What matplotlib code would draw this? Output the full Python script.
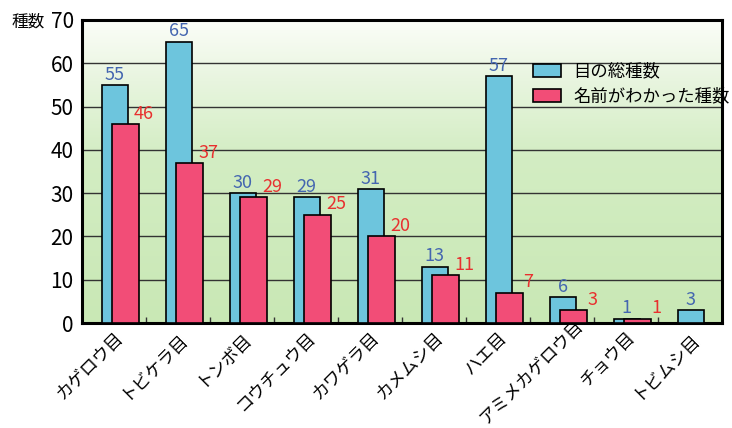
import matplotlib.pyplot as plt
import matplotlib.transforms as mtransforms
import numpy as np
from matplotlib.colors import LinearSegmentedColormap

plt.rcParams['font.family'] = ['Noto Sans CJK JP', 'DejaVu Sans']

categories = ["カゲロウ目", "トビケラ目", "トンボ目", "コウチュウ目", "カワゲラ目",
              "カメムシ目", "ハエ目", "アミメカゲロウ目", "チョウ目", "トビムシ目"]
total_species = [55, 65, 30, 29, 31, 13, 57, 6, 1, 3]
named_species = [46, 37, 29, 25, 20, 11, 7, 3, 1, 0]
yticks = [0, 10, 20, 30, 40, 50, 60, 70]

blue = '#6dc5dd'
red = '#f24d77'

fig = plt.figure(figsize=(7.32, 4.28), dpi=100)
ax = fig.add_axes([82/732, 1-323/428, 640/732, 303/428])

# gradient background: near white at the top, light green lower down
cmap = LinearSegmentedColormap.from_list(
    'bg', [(0.0, '#fbfdf8'), (0.2, '#e8f5df'), (0.45, '#d3edc3'), (1.0, '#c9e8b5')])
grad = np.linspace(0, 1, 256).reshape(-1, 1)
ax.imshow(grad, cmap=cmap, aspect='auto', extent=[-0.5, 9.5, 0, 70],
          origin='upper', zorder=0)

x = np.arange(len(categories))
w = 0.41
ax.bar(x + 0.01, total_species, width=w, color=blue, edgecolor='black', linewidth=1.2,
       zorder=3, label='目の総種数')
ax.bar(x + 0.18, [v if v > 0 else np.nan for v in named_species], width=w, color=red,
       edgecolor='black', linewidth=1.2, zorder=4, label='名前がわかった種数')

for i in range(len(categories)):
    ax.text(x[i] + 0.01, total_species[i] + 0.3, str(total_species[i]), color='#4466b0',
            ha='center', va='bottom', fontsize=13, zorder=5)
    if named_species[i] > 0:
        ax.text(x[i] + 0.47, named_species[i] + 0.3, str(named_species[i]), color='#e8302f',
                ha='center', va='bottom', fontsize=13, zorder=5)

ax.set_xlim(-0.5, 9.5)
ax.set_ylim(0, 70)
ax.set_yticks(yticks)
ax.tick_params(axis='y', length=0, labelsize=15, pad=6)
ax.yaxis.grid(True, color='#333333', linewidth=1.0, zorder=1)
ax.set_axisbelow(True)

ax.set_xticks(x)
ax.set_xticklabels(categories, rotation=45, ha='right', va='top', fontsize=12.5,
                   rotation_mode='anchor')
ax.tick_params(axis='x', length=0, pad=4)
ax.set_xticks(np.arange(0.5, 9.5, 1), minor=True)
ax.tick_params(axis='x', which='minor', direction='in', length=4, color='#333333', width=1)

# the long label sits a bit higher/right in the original so it stays in view
long_lbl = ax.get_xticklabels()[7]
long_lbl.set_transform(long_lbl.get_transform() +
                       mtransforms.ScaledTranslation(12/100, 12/100, fig.dpi_scale_trans))

for s in ax.spines.values():
    s.set_linewidth(2.2)
    s.set_color('black')

fig.text(28/732, 1-22/428, '種数', fontsize=12, ha='center', va='center')

ax.legend(loc='upper left', bbox_to_anchor=(0.705, 0.86), frameon=False, fontsize=12.5,
          handlelength=1.6, handleheight=0.8, handletextpad=0.7, labelspacing=0.4,
          borderaxespad=0, borderpad=0)

fig.savefig('out.png', dpi=100)
